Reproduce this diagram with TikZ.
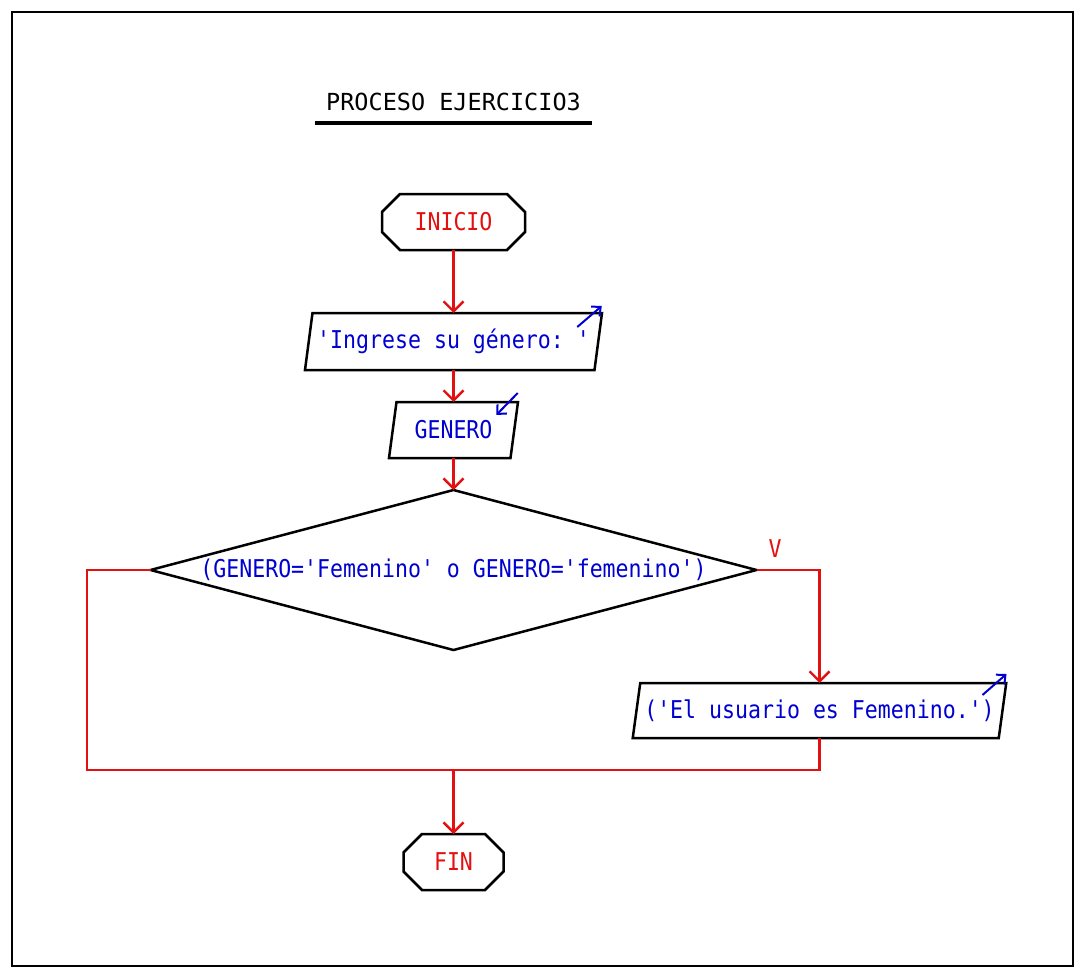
\documentclass[tikz,border=0pt]{standalone}
\usepackage{fontspec}
\setmonofont{DejaVu Sans Mono}[FakeStretch=0.88]
\newfontfamily\titlefont{DejaVu Sans Mono}
\usetikzlibrary{shapes.geometric,arrows.meta,calc}
\definecolor{pred}{RGB}{226,16,16}
\definecolor{pblue}{RGB}{0,0,208}
\tikzset{
  lbl/.style={font=\ttfamily\fontsize{24.5}{27}\selectfont, inner sep=0pt, outer sep=0pt},
  boxnode/.style={lbl, draw=none, rectangle},
  outline/.style={draw=black, line width=2.5pt, line join=miter},
  conn/.style={draw=pred, line width=2.4pt},
  arr/.style={conn, -{Straight Barb[length=10pt,width=20pt,line width=2.4pt]}},
  ioarr/.style={draw=pblue, line width=2pt, -{Straight Barb[length=7pt,width=13pt,line width=2pt]}},
  decision/.style={lbl, diamond, draw=black, line width=2.5pt, shape aspect=3.8, minimum width=606pt, minimum height=160pt, text=pblue}
}
\newcommand\myoctagon[2]{% node, chamfer
  \draw[outline] ([xshift=#2]#1.north west) -- ([xshift=-#2]#1.north east) -- ([yshift=-#2]#1.north east)
    -- ([yshift=#2]#1.south east) -- ([xshift=-#2]#1.south east) -- ([xshift=#2]#1.south west)
    -- ([yshift=#2]#1.south west) -- ([yshift=-#2]#1.north west) -- cycle;}
\newcommand\myparallelogram[2]{% node, half slant
  \draw[outline] ([xshift=-#2]#1.south west) -- ([xshift=#2]#1.north west) -- ([xshift=#2]#1.north east)
    -- ([xshift=-#2]#1.south east) -- cycle;}
\begin{document}
\begin{tikzpicture}[x=1pt,y=-1pt]
\useasboundingbox (0,0) rectangle (1085,977);
\draw[line width=2.5pt] (12,12) rectangle (1073,966);

% title
\node[inner sep=0pt, font=\titlefont\fontsize{23.5}{26}\selectfont, text=black] (title) at (453.5,102) {PROCESO EJERCICIO3};
\coordinate (ulA) at (315,123);
\coordinate (ulB) at (592,123);
\draw[line width=4pt] (ulA) -- (ulB);

% nodes
\node[boxnode, minimum width=143pt, minimum height=56pt, text=pred] (ini) at (453.5,222) {INICIO};
\myoctagon{ini}{18pt}

\node[boxnode, minimum width=289.5pt, minimum height=57pt, text=pblue] (in1) at (453.5,341.5) {'Ingrese su género: '};
\myparallelogram{in1}{3.75pt}

\node[boxnode, minimum width=121.5pt, minimum height=56pt, text=pblue] (in2) at (453.5,430) {GENERO};
\myparallelogram{in2}{3.75pt}

\node[decision] (dec) at (453.5,570) {(GENERO='Femenino' o GENERO='femenino')};

\node[boxnode, minimum width=366pt, minimum height=55pt, text=pblue] (out) at (819.5,710.5) {('El usuario es Femenino.')};
\myparallelogram{out}{3.75pt}

\node[boxnode, minimum width=100pt, minimum height=56pt, text=pred] (fin) at (453.5,862) {FIN};
\myoctagon{fin}{18.5pt}

\node[boxnode, text=pred] (vlbl) at (775,549) {V};

% io arrows
\draw[ioarr] ([xshift=-21pt,yshift=-14pt]in1.north east) -- ([xshift=3.5pt,yshift=7pt]in1.north east);
\draw[ioarr] ([xshift=3.5pt,yshift=9pt]in2.north east) -- ([xshift=-18pt,yshift=-13pt]in2.north east);
\draw[ioarr] ([xshift=-20pt,yshift=-12pt]out.north east) -- ([xshift=4pt,yshift=9pt]out.north east);

% connectors
\coordinate (join) at (453.5,770);
\coordinate (leftc) at (87,770);
\draw[arr] (ini.south) -- (in1.north);
\draw[arr] (in1.south) -- (in2.north);
\draw[arr] (in2.south) -- (dec.north);
\draw[arr] (dec.east) -| (out.north);
\draw[conn] (dec.west) -| (leftc) -- (join);
\draw[conn] (out.south) |- (join);
\draw[arr] (join) -- (fin.north);
\end{tikzpicture}
\end{document}
